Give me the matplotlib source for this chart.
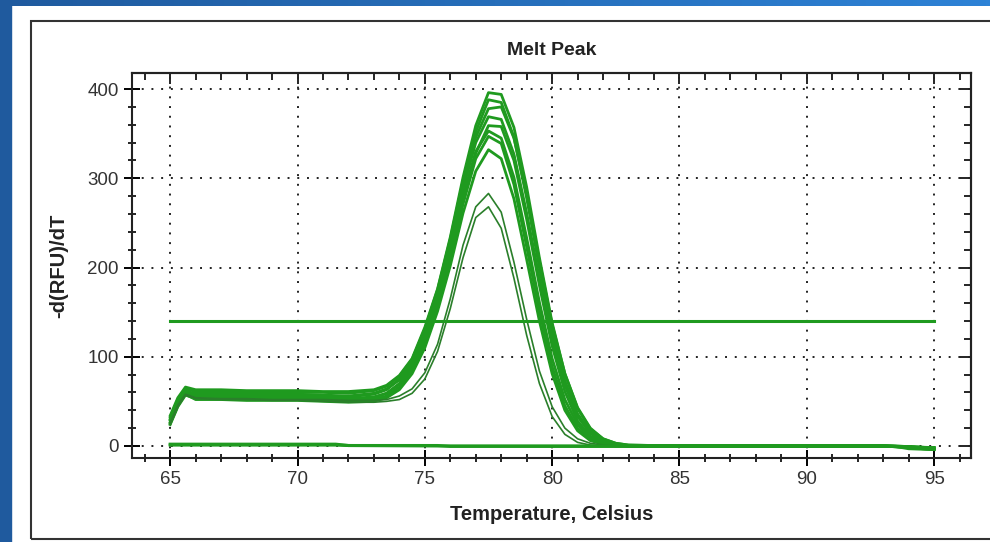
"""
Melt Peak chart: -d(RFU)/dT against temperature for a set of wells.
"""

import matplotlib.pyplot as plt
import numpy as np
from matplotlib.colors import LinearSegmentedColormap
from matplotlib.patches import Rectangle
from matplotlib.ticker import MultipleLocator


TEMPS = [65.0, 65.3, 65.6, 66.0, 67, 68, 69, 70, 71, 72, 73, 73.5, 74, 74.5,
         75, 75.5, 76, 76.5, 77, 77.5, 78, 78.5, 79, 79.5, 80, 80.5, 81, 81.5,
         82, 82.5, 83, 85, 90, 93, 94, 95]

WELLS = [
    [34, 54, 66, 63, 63, 62, 62, 62, 61, 61, 63, 68, 79, 98, 133, 176, 234, 301,
     359, 396, 394, 357, 290, 211, 138, 81, 42, 19, 8, 3, 1, 0, 0, 0, -1, -3],
    [30, 50, 64, 61, 61, 60, 60, 60, 60, 59, 62, 67, 78, 97, 131, 175, 232, 297,
     352, 388, 385, 346, 278, 200, 128, 73, 36, 16, 6, 2, 0, 0, 0, 0, -1, -2],
    [26, 46, 61, 59, 59, 58, 58, 58, 57, 56, 59, 64, 74, 93, 125, 167, 223, 290,
     346, 378, 380, 345, 281, 207, 136, 81, 43, 20, 8, 3, 1, 0, 0, 0, -2, -4],
    [32, 52, 62, 57, 57, 57, 56, 56, 56, 55, 58, 63, 75, 96, 129, 171, 225, 288,
     340, 369, 366, 327, 261, 188, 120, 68, 33, 14, 5, 2, 0, 0, 0, 0, -1, -3],
    [25, 45, 60, 56, 56, 55, 55, 55, 54, 53, 55, 59, 69, 87, 117, 159, 213, 275,
     328, 359, 358, 320, 254, 180, 112, 61, 28, 11, 4, 1, 0, 0, 0, 0, -1, -2],
    [27, 47, 59, 54, 54, 54, 53, 53, 53, 52, 54, 59, 70, 91, 123, 165, 219, 280,
     330, 353, 345, 301, 233, 161, 98, 52, 24, 9, 3, 1, 0, 0, 0, 0, -2, -4],
    [24, 44, 57, 53, 53, 52, 52, 52, 51, 50, 52, 56, 66, 85, 115, 157, 210, 271,
     322, 347, 339, 293, 223, 151, 89, 45, 20, 7, 2, 1, 0, 0, 0, 0, -1, -3],
    [29, 49, 58, 52, 52, 51, 51, 51, 50, 49, 50, 54, 63, 81, 110, 151, 202, 261,
     308, 332, 322, 277, 209, 140, 81, 40, 17, 6, 2, 0, 0, 0, 0, 0, -1, -2],
]

# the two lower, narrower peaks
LOW_WELLS = [
    [26, 46, 58, 54, 53, 53, 52, 52, 52, 51, 51, 52, 56, 64, 82, 114, 165, 225,
     268, 283, 262, 206, 142, 84, 44, 20, 8, 3, 1, 0, 0, 0, 0, 0, -1, -2],
    [24, 44, 57, 53, 52, 52, 51, 51, 50, 49, 49, 50, 52, 59, 75, 106, 154, 211,
     256, 268, 244, 188, 124, 70, 33, 13, 4, 1, 0, 0, 0, 0, 0, 0, -1, -2],
]

# negative controls lying on zero
BASE_TEMPS = [65.0, 71.5, 72.0, 75.5, 76.0, 93.5, 94.0, 95.0]
BASE_A = [2, 2, 0.5, 0.5, -0.5, -0.5, -3, -4]
BASE_B = [1, 1, 0.5, 0, 0, 0, -1, -2]

THRESHOLD = 140
THRESHOLD_RANGE = [65, 95]

GREEN = "#1f9a1f"


def draw_background(fig) -> None:
    """
    Blue window edge and the grey frame round the plot panel.
    """
    fig.patches.append(Rectangle((0, 0), 11 / 990, 1, transform=fig.transFigure,
                                 color="#1f5a9e", zorder=0))
    top = fig.add_axes([0, 1 - 6 / 542, 1, 6 / 542])
    gradient = np.linspace(0, 1, 256).reshape(1, -1)
    top.imshow(gradient, aspect="auto",
               cmap=LinearSegmentedColormap.from_list("edge", ["#1f5a9e", "#2d82d6"]))
    top.set_axis_off()
    fig.patches.append(Rectangle((31 / 990, 3 / 542), 1.0, 518 / 542,
                                 transform=fig.transFigure, fill=False,
                                 edgecolor="#333333", linewidth=1.5, zorder=1))


def main() -> None:
    plt.rcParams["font.family"] = ["Liberation Sans", "DejaVu Sans"]

    fig = plt.figure(figsize=(9.9, 5.42), dpi=100)
    draw_background(fig)

    ax = fig.add_axes([132 / 990, 1 - 458 / 542, 839 / 990, 385 / 542])

    for well in WELLS:
        ax.plot(TEMPS, well, color=GREEN, linewidth=2.0)
    for well in LOW_WELLS:
        ax.plot(TEMPS, well, color="#2a7f2a", linewidth=1.2)
    ax.plot(BASE_TEMPS, BASE_A, color=GREEN, linewidth=2.2)
    ax.plot(BASE_TEMPS, BASE_B, color=GREEN, linewidth=2.2)

    ax.plot(THRESHOLD_RANGE, [THRESHOLD, THRESHOLD], color=GREEN, linewidth=2.2)

    ax.set_xlim(63.5, 96.45)
    ax.set_ylim(-13.5, 418)

    ax.xaxis.set_major_locator(MultipleLocator(5))
    ax.xaxis.set_minor_locator(MultipleLocator(1))
    ax.yaxis.set_major_locator(MultipleLocator(100))
    ax.yaxis.set_minor_locator(MultipleLocator(20))

    ax.grid(True, which="major", color="#222222", linestyle=(0, (1, 4)),
            linewidth=1.4)
    ax.set_axisbelow(True)

    ax.tick_params(which="major", direction="inout", length=11, width=1.4,
                   labelsize=13.5, labelcolor="#333333", pad=4)
    ax.tick_params(which="minor", direction="inout", length=6, width=1.2)

    top = ax.secondary_xaxis("top")
    top.xaxis.set_major_locator(MultipleLocator(5))
    top.xaxis.set_minor_locator(MultipleLocator(1))
    top.tick_params(which="both", direction="in", labeltop=False, width=1.2)
    top.tick_params(which="major", length=8)
    top.tick_params(which="minor", length=5)

    right = ax.secondary_yaxis("right")
    right.yaxis.set_major_locator(MultipleLocator(100))
    right.yaxis.set_minor_locator(MultipleLocator(20))
    right.tick_params(which="both", direction="in", labelright=False, width=1.2)
    right.tick_params(which="major", length=8)
    right.tick_params(which="minor", length=5)

    for spine in list(ax.spines.values()) + [top.spines["top"], right.spines["right"]]:
        spine.set_linewidth(1.5)
        spine.set_color("#222222")

    ax.set_title("Melt Peak", fontsize=14, fontweight="bold", color="#222222",
                 pad=13)
    ax.set_xlabel("Temperature, Celsius", fontsize=14.5, fontweight="bold",
                  color="#222222", labelpad=12)
    ax.set_ylabel("-d(RFU)/dT", fontsize=14.5, fontweight="bold",
                  color="#222222", labelpad=14)

    fig.savefig("out.png", dpi=100)


if __name__ == "__main__":
    main()
